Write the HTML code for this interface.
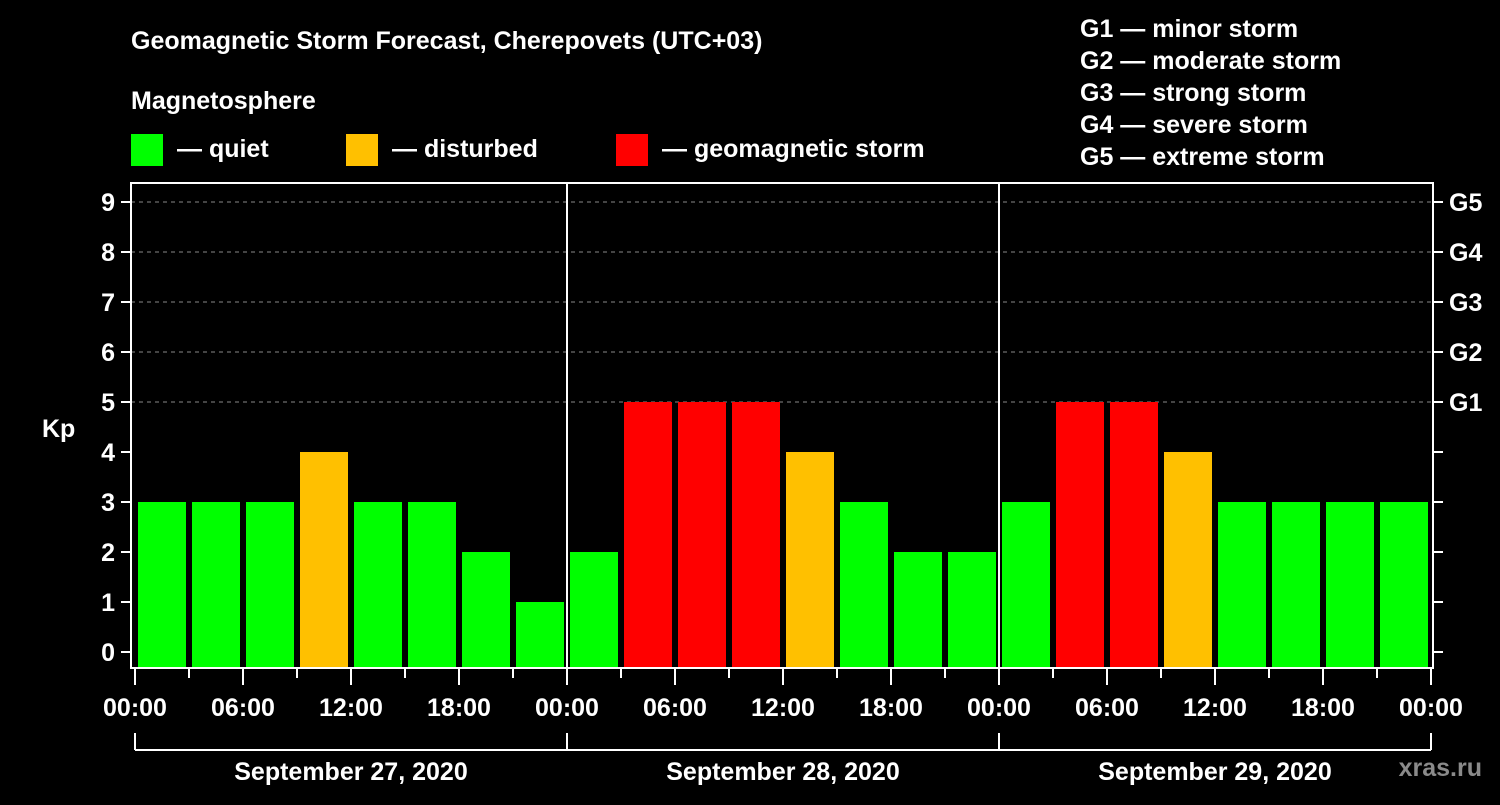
<!DOCTYPE html>
<html><head><meta charset="utf-8"><style>
body{margin:0;background:#000;width:1500px;height:800px;overflow:hidden}
svg text{font-family:"Liberation Sans",sans-serif;font-weight:bold;fill:#fff}
</style></head><body>
<svg id="c" width="1500" height="800">
<text x="131" y="49" font-size="25">Geomagnetic Storm Forecast, Cherepovets (UTC+03)</text>
<text x="131" y="109" font-size="25">Magnetosphere</text>
<rect x="131" y="134" width="32" height="32" fill="#00ff00"/>
<text x="177" y="157" font-size="25">— quiet</text>
<rect x="346" y="134" width="32" height="32" fill="#ffc000"/>
<text x="392" y="157" font-size="25">— disturbed</text>
<rect x="616" y="134" width="32" height="32" fill="#ff0000"/>
<text x="662" y="157" font-size="25">— geomagnetic storm</text>
<g font-size="25">
<text x="1080" y="37">G1 — minor storm</text>
<text x="1080" y="69">G2 — moderate storm</text>
<text x="1080" y="101">G3 — strong storm</text>
<text x="1080" y="133">G4 — severe storm</text>
<text x="1080" y="165">G5 — extreme storm</text>
</g>
<text x="42" y="437" font-size="25">Kp</text>
<text x="1482" y="776" font-size="25" fill="#888" style="fill:#8a8a8a" text-anchor="end">xras.ru</text>
<g id="g"></g>
</svg>
<script>
const kp=[3,3,3,4,3,3,2,1, 2,5,5,5,4,3,2,2, 3,5,5,4,3,3,3,3];
const days=["September 27, 2020","September 28, 2020","September 29, 2020"];
const yTicks=[0,1,2,3,4,5,6,7,8,9];
const gLabels=["G1","G2","G3","G4","G5"];
const timeLabels=["00:00","06:00","12:00","18:00"];
const L=131,R=1433,T=183,B=668,X0=135,SLOT=54;
const y=v=>652-50*v, x=i=>X0+i*SLOT;
const g=document.getElementById('g'),NS="http://www.w3.org/2000/svg";
function mk(t,a,txt){const e=document.createElementNS(NS,t);for(const k in a)e.setAttribute(k,a[k]);if(txt!==undefined)e.textContent=txt;g.appendChild(e);return e;}
yTicks.forEach(v=>{
 if(v>=5){const l=mk('line',{x1:L,x2:R,y1:y(v),y2:y(v),stroke:'#888','stroke-dasharray':'4,4','stroke-width':1});
 
 }
 mk('line',{x1:L-10,x2:L,y1:y(v),y2:y(v),stroke:'#fff','stroke-width':2});
 mk('line',{x1:R,x2:R+10,y1:y(v),y2:y(v),stroke:'#fff','stroke-width':2});
 const t=mk('text',{x:L-16,y:y(v)+9,'font-size':25,'text-anchor':'end'},v);
 
 
});
gLabels.forEach((s,i)=>{const t=mk('text',{x:1449,y:y(5+i)+9,'font-size':25},s);
 
 });
kp.forEach((v,i)=>{const c=v>=5?'#ff0000':v==4?'#ffc000':'#00ff00';
 const r=mk('rect',{x:x(i)+3,y:y(v),width:48,height:667-y(v),fill:c});
 
 });
mk('rect',{x:L,y:T,width:R-L,height:B-T,fill:'none',stroke:'#fff','stroke-width':2});
for(let d=1;d<3;d++)mk('line',{x1:x(d*8),x2:x(d*8),y1:T,y2:B,stroke:'#fff','stroke-width':2});
for(let i=0;i<=24;i++){mk('line',{x1:x(i),x2:x(i),y1:B,y2:B+(i%2?10:17),stroke:'#fff','stroke-width':2});
 if(i%2==0){const t=mk('text',{x:x(i),y:716,'font-size':25,'text-anchor':'middle'},timeLabels[(i/2)%4]);
 
 }}
mk('line',{x1:x(0),x2:x(24),y1:750,y2:750,stroke:'#fff','stroke-width':2});
for(let d=0;d<=3;d++)mk('line',{x1:x(d*8),x2:x(d*8),y1:733,y2:750,stroke:'#fff','stroke-width':2});
days.forEach((s,d)=>{const t=mk('text',{x:x(d*8+4),y:780,'font-size':25,'text-anchor':'middle'},s);
 
 });
</script>
</body></html>
